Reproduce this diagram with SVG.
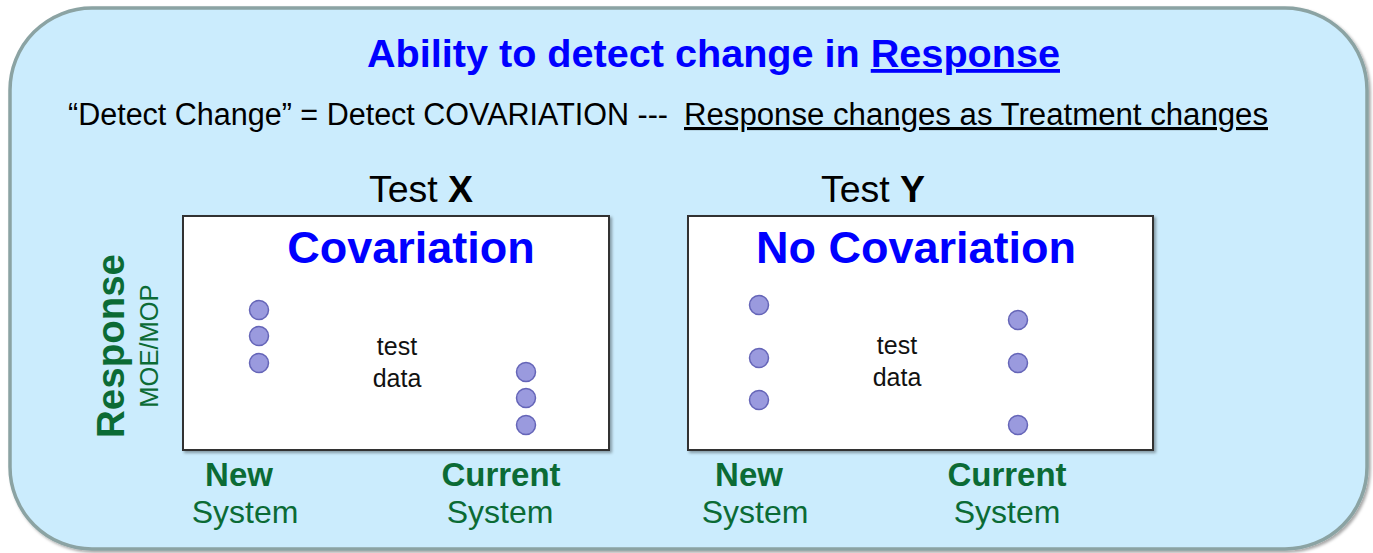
<svg xmlns="http://www.w3.org/2000/svg" width="1373" height="553" viewBox="0 0 1373 553">
<style>
  .t { font-family: "Liberation Sans", Arial, sans-serif; }
  .blue { fill: #0000ff; font-weight: bold; }
  .blk { fill: #000000; }
  .grn { fill: #0b6b35; }
  .gb { fill: #0b6b35; font-weight: bold; }
  .box { fill: #ffffff; stroke: #333333; stroke-width: 2; }
  .dot { fill: #9a9ade; stroke: #6565b8; stroke-width: 1.5; }
  .td { font-size: 25px; fill: #111111; }
</style>
<defs>
  <filter id="sh" x="-5%" y="-5%" width="110%" height="110%">
    <feDropShadow dx="2" dy="2" stdDeviation="1.5" flood-color="#000" flood-opacity="0.35"/>
  </filter>
</defs>

<g id="background">
  <rect x="10" y="8" width="1357" height="541" rx="82" ry="82" fill="#cbecfd" stroke="#8ba3a3" stroke-width="3.5" filter="url(#sh)"/>
</g>

<g id="title">
  <text class="t blue" x="367" y="67" font-size="38" textLength="693" lengthAdjust="spacingAndGlyphs">Ability to detect  change in <tspan text-decoration="underline">Response</tspan></text>
</g>

<g id="subtitle">
  <text class="t blk" x="68" y="125" font-size="31" textLength="600" lengthAdjust="spacingAndGlyphs">“Detect Change” = Detect COVARIATION ---</text>
  <text class="t blk" x="684" y="125" font-size="31" textLength="584" lengthAdjust="spacingAndGlyphs" text-decoration="underline">Response changes as Treatment changes</text>
</g>

<g id="axis-label">
  <text class="t gb" transform="translate(124,346) rotate(-90)" text-anchor="middle" font-size="38.5">Response</text>
  <text class="t grn" transform="translate(158,346) rotate(-90)" text-anchor="middle" font-size="25.5">MOE/MOP</text>
</g>

<g id="testX">
  <text class="t blk" x="421" y="202" text-anchor="middle" font-size="37.5">Test <tspan font-weight="bold">X</tspan></text>
  <rect class="box" x="183" y="216" width="426" height="234" filter="url(#sh)"/>
  <text class="t blue" x="411" y="263" text-anchor="middle" font-size="45">Covariation</text>
  <circle class="dot" cx="259" cy="310" r="9.5"/>
  <circle class="dot" cx="259" cy="336" r="9.5"/>
  <circle class="dot" cx="259" cy="363" r="9.5"/>
  <circle class="dot" cx="526" cy="372" r="9.5"/>
  <circle class="dot" cx="526" cy="398" r="9.5"/>
  <circle class="dot" cx="526" cy="425" r="9.5"/>
  <text class="t td" x="397" y="355" text-anchor="middle">test</text>
  <text class="t td" x="397" y="387" text-anchor="middle">data</text>
  <text class="t gb" x="239" y="486" text-anchor="middle" font-size="33">New</text>
  <text class="t grn" x="245" y="523" text-anchor="middle" font-size="32">System</text>
  <text class="t gb" x="501" y="486" text-anchor="middle" font-size="33">Current</text>
  <text class="t grn" x="500" y="523" text-anchor="middle" font-size="32">System</text>
</g>

<g id="testY">
  <text class="t blk" x="873" y="202" text-anchor="middle" font-size="37.5">Test <tspan font-weight="bold">Y</tspan></text>
  <rect class="box" x="688" y="216" width="465" height="234" filter="url(#sh)"/>
  <text class="t blue" x="916" y="263" text-anchor="middle" font-size="45">No Covariation</text>
  <circle class="dot" cx="759" cy="305" r="9.5"/>
  <circle class="dot" cx="759" cy="358" r="9.5"/>
  <circle class="dot" cx="759" cy="400" r="9.5"/>
  <circle class="dot" cx="1018" cy="320" r="9.5"/>
  <circle class="dot" cx="1018" cy="363" r="9.5"/>
  <circle class="dot" cx="1018" cy="425" r="9.5"/>
  <text class="t td" x="897" y="354" text-anchor="middle">test</text>
  <text class="t td" x="897" y="386" text-anchor="middle">data</text>
  <text class="t gb" x="749" y="486" text-anchor="middle" font-size="33">New</text>
  <text class="t grn" x="755" y="523" text-anchor="middle" font-size="32">System</text>
  <text class="t gb" x="1007" y="486" text-anchor="middle" font-size="33">Current</text>
  <text class="t grn" x="1007" y="523" text-anchor="middle" font-size="32">System</text>
</g>

<g id="connectors"></g>
</svg>
